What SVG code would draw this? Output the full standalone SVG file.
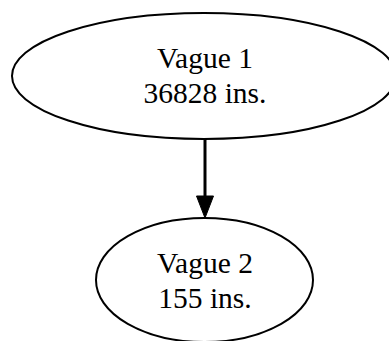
<svg xmlns="http://www.w3.org/2000/svg" width="389" height="341" viewBox="0 0 389 341">
<style>
.node ellipse{fill:#fff;stroke:#000;stroke-width:2}
.node text{font-family:"Liberation Serif",serif;font-size:29.5px;text-anchor:middle;fill:#000}
.edge{stroke:#000;stroke-width:3;fill:none}
</style>
<rect width="389" height="341" fill="#fff"/>
<g id="connectors">
<line class="edge" x1="205" y1="140" x2="205" y2="197"/>
<polygon points="196.5,196 213.5,196 205,218" fill="#000" stroke="#000" stroke-width="1"/>
</g>
<g id="vague1" class="node">
<ellipse cx="204" cy="76" rx="192" ry="63"/>
<text x="205" y="68">Vague 1</text>
<text x="205" y="103">36828 ins.</text>
</g>
<g id="vague2" class="node">
<ellipse cx="204.5" cy="280" rx="108.5" ry="62"/>
<text x="205" y="273">Vague 2</text>
<text x="205" y="308">155 ins.</text>
</g>
</svg>
